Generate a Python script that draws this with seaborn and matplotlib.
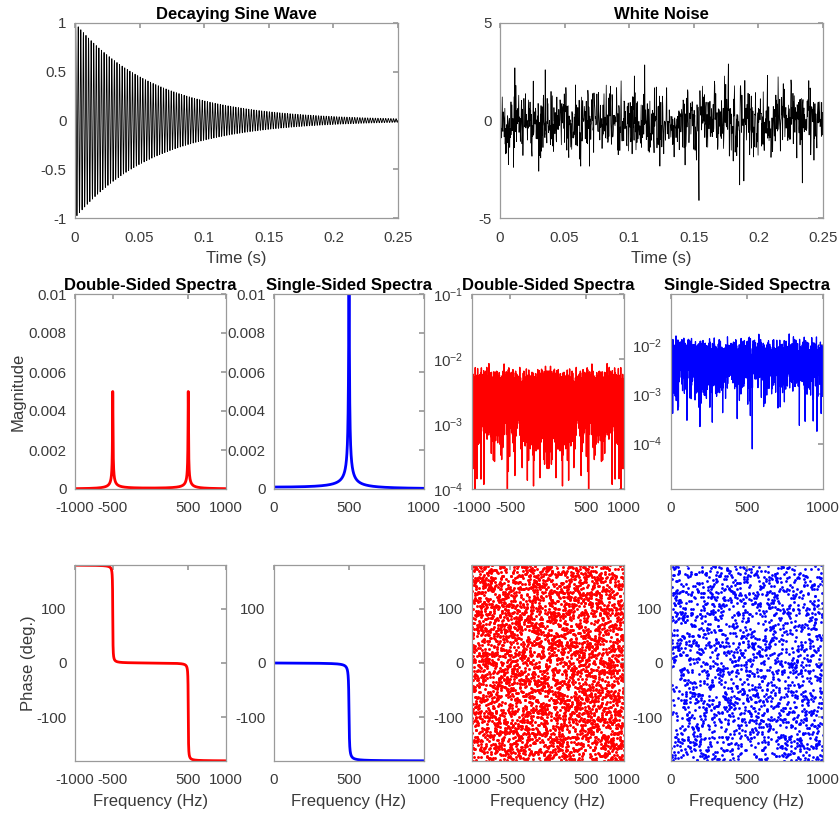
import numpy as np
import seaborn as sns
import matplotlib
matplotlib.use("Agg")
import matplotlib.pyplot as plt
from matplotlib.ticker import FixedLocator, FuncFormatter, NullLocator, LogFormatterSciNotation

# ---------------- data ----------------
# decaying sine: 500 Hz, unit amplitude, envelope ~0.45 at 0.05 s, ~0.04 at 0.2 s
sine_freq_hz = [500.0]
sine_amplitude = [1.0]
sine_decay_per_s = [16.0]
sine_fs_hz = [8000.0]
sine_n_samples = [50000]
time_window_s = [0.0, 0.25]

# white noise: individual samples cannot be read, only their spread and the
# visible spikes; the bulk is drawn reproducibly (fixed seed) with that spread
noise_fs_hz = [4000.0]
noise_n_samples = [8000]
noise_std = [0.9]
noise_seed = [7]
noise_spike_times_s = [0.0106, 0.0114, 0.030, 0.035, 0.112, 0.154, 0.1767, 0.1854, 0.1888, 0.234]
noise_spike_values = [-2.4, 2.7, -2.6, 2.6, 2.85, -4.1, 2.9, -3.3, -3.1, -3.2]
noise_spec_median = [2.6e-3]   # typical double-sided magnitude level

freq_window_hz = [-1000.0, 1000.0]

# tick labels
time_ticks = [0, 0.05, 0.1, 0.15, 0.2, 0.25]
sine_yticks = [-1, -0.5, 0, 0.5, 1]
noise_yticks = [-5, 0, 5]
mag_ticks = [0, 0.002, 0.004, 0.006, 0.008, 0.01]
double_fticks = [-1000, -500, 500, 1000]
single_fticks = [0, 500, 1000]
phase_ticks = [-100, 0, 100]
log_ticks_double = [1e-4, 1e-3, 1e-2, 1e-1]
log_ticks_single = [1e-4, 1e-3, 1e-2]

# ---------------- signals ----------------
fs_s = sine_fs_hz[0]
n_s = sine_n_samples[0]
t_s = np.arange(n_s) / fs_s
sine = sine_amplitude[0] * np.exp(-sine_decay_per_s[0] * t_s) * np.sin(2 * np.pi * sine_freq_hz[0] * t_s)

fs_n = noise_fs_hz[0]
n_n = noise_n_samples[0]
t_n = np.arange(n_n) / fs_n
rng = np.random.default_rng(noise_seed[0])
noise = noise_std[0] * np.clip(rng.standard_normal(n_n), -2.6, 2.6)
for ts, v in zip(noise_spike_times_s, noise_spike_values):
    noise[int(round(ts * fs_n))] = v

# ---------------- spectra ----------------
def spectra(x, fs):
    n = len(x)
    X = np.fft.fftshift(np.fft.fft(x)) / n
    f = np.fft.fftshift(np.fft.fftfreq(n, 1 / fs))
    return f, X

f_s, X_s = spectra(sine, fs_s)
m = (f_s >= freq_window_hz[0]) & (f_s <= freq_window_hz[1])
f_s, X_s = f_s[m], X_s[m]
mag_s = np.abs(X_s)
ph_s = np.degrees(np.angle(X_s))
pos = f_s >= 0

f_n, X_n = spectra(noise, fs_n)
m = (f_n >= freq_window_hz[0]) & (f_n <= freq_window_hz[1])
f_n, X_n = f_n[m], X_n[m]
mag_n = np.abs(X_n)
mag_n = mag_n * noise_spec_median[0] / np.median(mag_n)
ph_n = np.degrees(np.angle(X_n))
posn = f_n >= 0

# ---------------- style ----------------
sns.set_theme(style="white")
plt.rcParams["font.family"] = ["Liberation Sans", "DejaVu Sans"]
GREY_TXT = "#3a3a3a"
GREY_AX = "#9a9a9a"
plt.rcParams.update({
    "axes.edgecolor": GREY_AX,
    "axes.linewidth": 0.9,
    "xtick.color": GREY_AX,
    "ytick.color": GREY_AX,
    "xtick.labelcolor": GREY_TXT,
    "ytick.labelcolor": GREY_TXT,
    "xtick.labelsize": 10.8,
    "ytick.labelsize": 10.8,
    "xtick.direction": "in",
    "ytick.direction": "in",
    "xtick.major.size": 3.5,
    "ytick.major.size": 3.5,
    "xtick.major.pad": 9,
    "ytick.major.pad": 6,
    "axes.labelcolor": GREY_TXT,
    "axes.labelsize": 12,
})

W, H = 840, 814
fig = plt.figure(figsize=(W / 100, H / 100), dpi=100)


def add_ax(x0, x1, y0, y1):
    ax = fig.add_axes([x0 / W, 1 - y1 / H, (x1 - x0) / W, (y1 - y0) / H])
    ax.tick_params(top=True, right=True, which="both")
    ax.minorticks_off()
    return ax


gfmt = FuncFormatter(lambda v, p: ("%g" % v))


def title(ax, s):
    ax.set_title(s, fontsize=12, fontweight="bold", color="black", pad=3)


# ---- top row ----
ax = add_ax(75, 398, 23, 218)
tw = t_s <= time_window_s[1]
sns.lineplot(x=t_s[tw], y=sine[tw], ax=ax, color="black", linewidth=0.6, estimator=None, sort=False)
ax.set_xlim(*time_window_s)
ax.set_ylim(-1, 1)
ax.xaxis.set_major_locator(FixedLocator(time_ticks))
ax.yaxis.set_major_locator(FixedLocator(sine_yticks))
ax.xaxis.set_major_formatter(gfmt)
ax.yaxis.set_major_formatter(gfmt)
ax.set_xlabel("Time (s)", labelpad=5)
title(ax, "Decaying Sine Wave")

ax = add_ax(500, 823, 23, 218)
twn = t_n <= time_window_s[1]
sns.lineplot(x=t_n[twn], y=noise[twn], ax=ax, color="black", linewidth=0.55, estimator=None, sort=False)
ax.set_xlim(*time_window_s)
ax.set_ylim(-5, 5)
ax.xaxis.set_major_locator(FixedLocator(time_ticks))
ax.yaxis.set_major_locator(FixedLocator(noise_yticks))
ax.xaxis.set_major_formatter(gfmt)
ax.yaxis.set_major_formatter(gfmt)
ax.set_xlabel("Time (s)", labelpad=5)
title(ax, "White Noise")

cols = [(75, 226), (274, 424), (472, 624), (671, 823)]
mid = (294, 489)
bot = (565, 761)

# ---- middle row: magnitudes ----
ax = add_ax(*cols[0], *mid)
sns.lineplot(x=f_s, y=mag_s, ax=ax, color="red", linewidth=2, estimator=None, sort=False)
ax.set_xlim(*freq_window_hz)
ax.set_ylim(0, 0.01)
ax.xaxis.set_major_locator(FixedLocator(double_fticks))
ax.yaxis.set_major_locator(FixedLocator(mag_ticks))
ax.xaxis.set_major_formatter(gfmt)
ax.yaxis.set_major_formatter(gfmt)
ax.set_ylabel("Magnitude", labelpad=2)
title(ax, "Double-Sided Spectra")

ax = add_ax(*cols[1], *mid)
sns.lineplot(x=f_s[pos], y=2 * mag_s[pos], ax=ax, color="blue", linewidth=2, estimator=None, sort=False)
ax.set_xlim(0, freq_window_hz[1])
ax.set_ylim(0, 0.01)
ax.xaxis.set_major_locator(FixedLocator(single_fticks))
ax.yaxis.set_major_locator(FixedLocator(mag_ticks))
ax.xaxis.set_major_formatter(gfmt)
ax.yaxis.set_major_formatter(gfmt)
title(ax, "Single-Sided Spectra")

ax = add_ax(*cols[2], *mid)
sns.lineplot(x=f_n, y=mag_n, ax=ax, color="red", linewidth=1.0, estimator=None, sort=False)
ax.set_yscale("log")
ax.set_xlim(*freq_window_hz)
ax.set_ylim(1e-4, 1e-1)
ax.xaxis.set_major_locator(FixedLocator(double_fticks))
ax.xaxis.set_major_formatter(gfmt)
ax.yaxis.set_major_locator(FixedLocator(log_ticks_double))
ax.yaxis.set_major_formatter(LogFormatterSciNotation())
ax.yaxis.set_minor_locator(NullLocator())
title(ax, "Double-Sided Spectra")

ax = add_ax(*cols[3], *mid)
sns.lineplot(x=f_n[posn], y=2 * mag_n[posn], ax=ax, color="blue", linewidth=0.9, estimator=None, sort=False)
ax.set_yscale("log")
ax.set_xlim(0, freq_window_hz[1])
ax.set_ylim(1.2e-5, 1.1e-1)
ax.xaxis.set_major_locator(FixedLocator(single_fticks))
ax.xaxis.set_major_formatter(gfmt)
ax.yaxis.set_major_locator(FixedLocator(log_ticks_single))
ax.yaxis.set_major_formatter(LogFormatterSciNotation())
ax.yaxis.set_minor_locator(NullLocator())
title(ax, "Single-Sided Spectra")

# ---- bottom row: phases ----
ax = add_ax(*cols[0], *bot)
sns.lineplot(x=f_s, y=ph_s, ax=ax, color="red", linewidth=2, estimator=None, sort=False)
ax.set_xlim(*freq_window_hz)
ax.set_ylim(-180, 180)
ax.xaxis.set_major_locator(FixedLocator(double_fticks))
ax.yaxis.set_major_locator(FixedLocator(phase_ticks))
ax.xaxis.set_major_formatter(gfmt)
ax.yaxis.set_major_formatter(gfmt)
ax.set_ylabel("Phase (deg.)", labelpad=0)
ax.set_xlabel("Frequency (Hz)", labelpad=5)

ax = add_ax(*cols[1], *bot)
sns.lineplot(x=f_s[pos], y=ph_s[pos], ax=ax, color="blue", linewidth=2, estimator=None, sort=False)
ax.set_xlim(0, freq_window_hz[1])
ax.set_ylim(-180, 180)
ax.xaxis.set_major_locator(FixedLocator(single_fticks))
ax.yaxis.set_major_locator(FixedLocator(phase_ticks))
ax.xaxis.set_major_formatter(gfmt)
ax.yaxis.set_major_formatter(gfmt)
ax.set_xlabel("Frequency (Hz)", labelpad=5)

ax = add_ax(*cols[2], *bot)
sns.scatterplot(x=f_n, y=ph_n, ax=ax, color="red", s=4.5, linewidth=0)
ax.set_xlim(*freq_window_hz)
ax.set_ylim(-180, 180)
ax.xaxis.set_major_locator(FixedLocator(double_fticks))
ax.yaxis.set_major_locator(FixedLocator(phase_ticks))
ax.xaxis.set_major_formatter(gfmt)
ax.yaxis.set_major_formatter(gfmt)
ax.set_xlabel("Frequency (Hz)", labelpad=5)

ax = add_ax(*cols[3], *bot)
sns.scatterplot(x=f_n[posn], y=ph_n[posn], ax=ax, color="blue", s=4, linewidth=0)
ax.set_xlim(0, freq_window_hz[1])
ax.set_ylim(-180, 180)
ax.xaxis.set_major_locator(FixedLocator(single_fticks))
ax.yaxis.set_major_locator(FixedLocator(phase_ticks))
ax.xaxis.set_major_formatter(gfmt)
ax.yaxis.set_major_formatter(gfmt)
ax.set_xlabel("Frequency (Hz)", labelpad=5)

fig.savefig("out.png", dpi=100, facecolor="white")
